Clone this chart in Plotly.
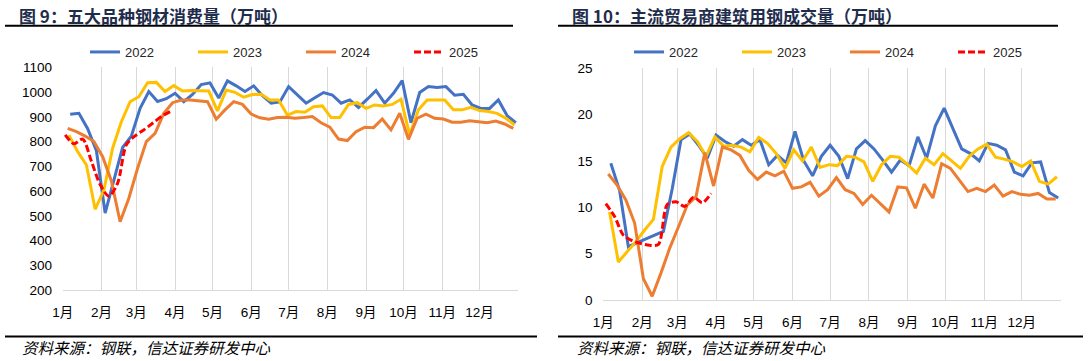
import pandas as pd
import plotly.graph_objects as go

# ---------------- data ----------------
series_names = ["2022", "2023", "2024", "2025"]
first_fridays = ["2022-01-07", "2023-01-06", "2024-01-05", "2025-01-03"]
month_labels = ["1月", "2月", "3月", "4月", "5月", "6月", "7月", "8月", "9月", "10月", "11月", "12月"]
month_start_days = [0, 31, 59, 90, 120, 151, 181, 212, 243, 273, 304, 334, 365]

consumption_2022 = [910, 914, 852, 763, 511, 643, 776, 822, 934, 1002, 962, 973, 995, 961, 990, 1030,
                    1037, 976, 1045, 1025, 1002, 1025, 985, 955, 960, 1022, 988, 955, 977, 998, 988, 955,
                    968, 938, 971, 1006, 955, 995, 1046, 876, 998, 1022, 1018, 1022, 987, 991, 948, 934,
                    934, 968, 905, 876]
consumption_2023 = [826, 759, 705, 526, 604, 773, 880, 961, 981, 1038, 1039, 1002, 1026, 1004, 1006, 1004,
                    1004, 924, 1008, 999, 979, 990, 991, 968, 968, 907, 921, 918, 941, 944, 897, 897,
                    950, 957, 934, 948, 944, 950, 971, 827, 928, 968, 968, 968, 928, 928, 938, 925,
                    921, 914, 894, 867]
consumption_2024 = [853, 840, 822, 800, 739, 641, 476, 571, 692, 800, 833, 914, 957, 968, 968, 964,
                    961, 890, 928, 961, 950, 911, 896, 890, 897, 898, 894, 897, 901, 876, 858, 810,
                    804, 840, 858, 856, 891, 847, 914, 809, 894, 911, 894, 891, 878, 878, 884, 880,
                    876, 883, 871, 853]
consumption_2025 = [827, 791, 810, 720, 626, 579, 632, 787, 823, 847, 874, 901, 921]

trade_2022 = [14.75, 11.8, 5.75, 6.2, 6.6, 7.0, 7.4, 12.0, 17.3, 17.9, 16.7, 15.3, 17.8, 17.1, 16.6, 17.3,
              16.7, 17.3, 14.6, 15.6, 14.8, 18.2, 15.0, 13.4, 15.5, 16.7, 15.5, 13.1, 16.3, 17.2, 16.3, 15.1,
              13.8, 15.1, 14.5, 17.6, 15.3, 18.8, 20.7, 18.5, 16.3, 15.8, 15.0, 16.9, 16.7, 16.2, 13.8, 13.4,
              14.8, 14.9, 11.6, 11.0]
trade_2023 = [9.5, 4.1, 5.2, 6.3, 7.55, 8.7, 14.4, 16.5, 17.4, 18.05, 17.1, 15.5, 17.6, 16.6, 16.7, 16.5,
              16.0, 17.55, 16.9, 15.8, 14.2, 16.2, 15.0, 16.5, 14.3, 14.6, 14.5, 15.5, 15.4, 14.9, 12.8, 14.6,
              15.5, 15.4, 14.6, 13.7, 15.3, 14.6, 15.8, 15.0, 14.2, 15.5, 16.3, 16.8, 15.4, 15.2, 14.9, 14.4,
              15.0, 12.8, 12.5, 13.3]
trade_2024 = [13.6, 12.4, 10.8, 8.3, 2.3, 0.4, 2.9, 5.6, 7.9, 10.25, 11.15, 15.9, 12.3, 16.5, 16.2, 15.6,
              14.0, 13.0, 13.8, 13.4, 13.9, 12.05, 12.2, 12.7, 11.2, 11.9, 13.2, 11.9, 11.5, 10.3, 11.3, 10.4,
              9.5, 12.2, 12.1, 9.9, 12.5, 11.0, 14.7, 14.2, 13.0, 11.7, 12.05, 11.7, 12.4, 11.2, 11.7, 11.4,
              11.3, 11.5, 10.9, 10.9]
trade_2025 = [10.4, 9.0, 7.0, 6.4, 6.1, 5.9, 6.0, 10.3, 10.6, 10.1, 11.1, 10.5, 11.5]

left_series = [consumption_2022, consumption_2023, consumption_2024, consumption_2025]
right_series = [trade_2022, trade_2023, trade_2024, trade_2025]

colors = ["#4472C4", "#FFC000", "#ED7D31", "#FF0000"]

W, H = 1088, 361
FONT = "Liberation Sans, Arial, Noto Sans CJK SC, sans-serif"
CJK = "Noto Sans CJK SC, sans-serif"


def day_offsets(start, n):
    d = pd.date_range(start, periods=n, freq="7D")
    jan1 = pd.Timestamp(year=d[0].year, month=1, day=1)
    return [(x - jan1).days for x in d]


def px(x):
    return x / W


def py(y):
    return 1 - y / H


fig = go.Figure()

for i, name in enumerate(series_names):
    for data, xa, ya, lg in [(left_series[i], "x", "y", "legend"),
                             (right_series[i], "x2", "y2", "legend2")]:
        xs = day_offsets(first_fridays[i], len(data))
        if name == "2025":
            line = dict(color=colors[i], width=3, dash="7px,3px", shape="spline", smoothing=0.8)
        else:
            line = dict(color=colors[i], width=3)
        fig.add_trace(go.Scatter(
            x=xs, y=data, mode="lines", name=name, line=line,
            xaxis=xa, yaxis=ya, legend=lg, hoverinfo="skip"))

xaxis_common = dict(
    range=[0, 365], tickmode="array", tickvals=month_start_days,
    ticktext=month_labels + [""], showgrid=True, gridcolor="#D9D9D9", gridwidth=1,
    showline=True, linecolor="#D9D9D9", linewidth=1, zeroline=False,
    ticks="outside", ticklen=10, tickcolor="rgba(0,0,0,0)", tickangle=0, automargin=False,
    tickfont=dict(family=FONT, size=13.5, color="#000000"),
)
yaxis_common = dict(
    showgrid=False, zeroline=False, showline=False, automargin=False,
    ticks="outside", ticklen=7, tickcolor="rgba(0,0,0,0)",
    tickfont=dict(family=FONT, size=13.5, color="#000000"),
)

legend_common = dict(orientation="h", yanchor="middle", y=py(52), xanchor="left",
                     entrywidth=63, entrywidthmode="pixels", bgcolor="rgba(0,0,0,0)",
                     font=dict(family=FONT, size=13, color="#262626"))

fig.update_layout(
    width=W, height=H, margin=dict(l=0, r=0, t=0, b=0, autoexpand=False),
    paper_bgcolor="white", plot_bgcolor="white",
    xaxis=dict(**xaxis_common, domain=[px(62.7), px(518.3)], anchor="y"),
    yaxis=dict(**yaxis_common, domain=[py(290), py(67.3)], range=[200, 1100], dtick=100, anchor="x"),
    xaxis2=dict(**xaxis_common, domain=[px(603.3), px(1060.7)], anchor="y2"),
    yaxis2=dict(**yaxis_common, domain=[py(300), py(68.3)], range=[0, 25], dtick=5, anchor="x2"),
    legend=dict(**legend_common, x=px(85)),
    legend2=dict(**legend_common, x=px(629)),
    showlegend=True,
)

# titles
title_font = dict(family=CJK, size=17, color="#1F2D4D", weight="bold")
fig.add_annotation(text="图 9：五大品种钢材消费量（万吨）", x=px(17), y=py(15), xref="paper", yref="paper",
                   xanchor="left", yanchor="middle", showarrow=False, font=title_font)
fig.add_annotation(text="图 10：主流贸易商建筑用钢成交量（万吨）", x=px(570), y=py(15), xref="paper", yref="paper",
                   xanchor="left", yanchor="middle", showarrow=False, font=title_font)

# footers
foot_font = dict(family=CJK, size=15.5, color="#000000", style="italic")
fig.add_annotation(text="资料来源：钢联，信达证券研发中心", x=px(20), y=py(347), xref="paper", yref="paper",
                   xanchor="left", yanchor="middle", showarrow=False, font=foot_font)
fig.add_annotation(text="资料来源：钢联，信达证券研发中心", x=px(575), y=py(347), xref="paper", yref="paper",
                   xanchor="left", yanchor="middle", showarrow=False, font=foot_font)

# rules
for x0, x1, y in [(5, 513, 25.7), (558, 1058, 25.7), (5, 537, 336.5), (558, 1083, 336.5)]:
    fig.add_shape(type="line", xref="paper", yref="paper", x0=px(x0), x1=px(x1), y0=py(y), y1=py(y),
                  line=dict(color="#000000", width=2))

fig.write_html("out.html", config={"displayModeBar": False},
               post_script="document.body.style.margin='0px';document.body.style.padding='0px';")
